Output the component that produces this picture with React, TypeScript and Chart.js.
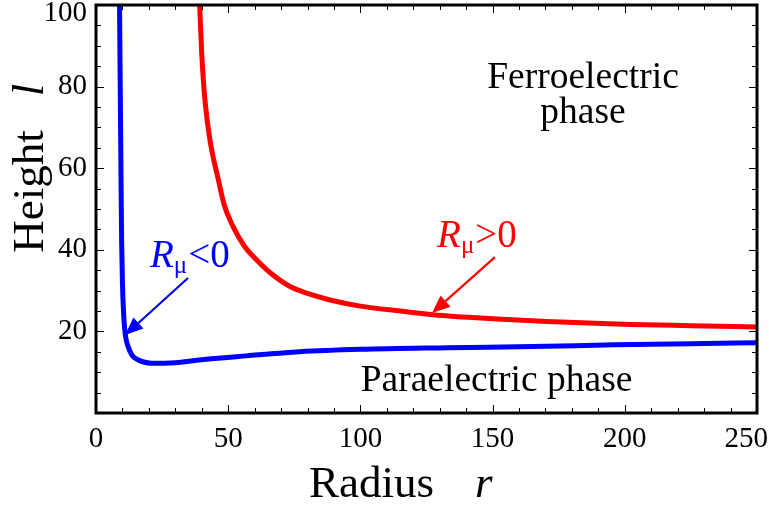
import React, { useEffect, useRef } from 'react';
import { Chart, registerables } from 'chart.js';

Chart.register(...registerables);

// Blue curve (R_mu < 0): radius r, height l
const blueR = [8.9, 9.1, 9.3, 9.5, 9.7, 10.0, 10.4, 11.0, 12.2, 13.6, 15.4, 18.0, 21.0, 26.0, 30.0, 39.0, 57.0, 77.0, 100.0, 133.0, 165.0, 196.0, 225.0, 250.0];
const blueL = [100, 85, 70, 55, 42, 32, 25, 19.6, 16.2, 14.2, 13.2, 12.5, 12.2, 12.2, 12.3, 13.0, 14.0, 15.0, 15.6, 16.0, 16.3, 16.7, 17.0, 17.2];

// Red curve (R_mu > 0)
const redR = [39.2, 40.0, 41.2, 43.1, 46.3, 48.5, 51.9, 56.0, 60.8, 66.0, 73.4, 80.0, 88.5, 100.0, 115.0, 127.5, 150.0, 170.6, 202.0, 225.0, 250.0];
const redL = [100, 88, 76.7, 66.9, 57.1, 51.0, 45.6, 41.0, 37.5, 34.3, 31.0, 29.3, 27.7, 26.2, 25.0, 24.1, 23.1, 22.4, 21.7, 21.4, 21.1];

// Axis ticks
const xTickValues = [0, 50, 100, 150, 200, 250];
const xTickLabels = ['0', '50', '100', '150', '200', '250'];
const yTickValues = [20, 40, 60, 80, 100];
const yTickLabels = ['20', '40', '60', '80', '100'];

const SERIF = '"Liberation Serif", "Times New Roman", Times, serif';

export default function App() {
  const ref = useRef<HTMLCanvasElement | null>(null);

  useEffect(() => {
    const canvas = ref.current;
    if (!canvas) return;

    const decor = {
      id: 'decor',
      afterDraw(chart: any) {
        const ctx = chart.ctx as CanvasRenderingContext2D;
        const { left, right, top, bottom } = chart.chartArea;
        const xs = chart.scales.x;
        const ys = chart.scales.y;
        const X = (v: number) => xs.getPixelForValue(v);
        const Y = (v: number) => ys.getPixelForValue(v);
        ctx.save();

        // tick marks (inside, on all four sides)
        ctx.strokeStyle = '#000';
        ctx.lineWidth = 1;
        ctx.beginPath();
        for (let v = 0; v <= 250; v += 10) {
          const px = Math.round(X(v)) + 0.5;
          const len = v % 50 === 0 ? 8 : 5;
          ctx.moveTo(px, bottom);
          ctx.lineTo(px, bottom - len);
          ctx.moveTo(px, top);
          ctx.lineTo(px, top + len);
        }
        for (let v = 0; v <= 100; v += 5) {
          const py = Math.round(Y(v)) + 0.5;
          const len = v % 20 === 0 ? 8 : 5;
          ctx.moveTo(left, py);
          ctx.lineTo(left + len, py);
          ctx.moveTo(right, py);
          ctx.lineTo(right - len, py);
        }
        ctx.stroke();

        // frame
        ctx.lineWidth = 3;
        ctx.strokeRect(left, top, right - left, bottom - top);

        const text = (s: string, x: number, y: number, font: string, color: string, align: CanvasTextAlign = 'left') => {
          ctx.font = font;
          ctx.fillStyle = color;
          ctx.textAlign = align;
          ctx.textBaseline = 'alphabetic';
          ctx.fillText(s, x, y);
          return ctx.measureText(s).width;
        };

        // phase labels
        text('Ferroelectric', X(184.2), Y(79.6), `37.5px ${SERIF}`, '#000', 'center');
        text('phase', X(184.2), Y(71.0), `37.5px ${SERIF}`, '#000', 'center');
        text('Paraelectric phase', X(151.5), Y(5.4), `37.5px ${SERIF}`, '#000', 'center');

        // R_mu labels
        const rmu = (x: number, y: number, op: string, color: string) => {
          let cx = x;
          cx += text('R', cx, y, `italic 39px ${SERIF}`, color);
          cx += text('\u03bc', cx, y + 6, `25px ${SERIF}`, color);
          text(op + '0', cx + 1, y, `39px ${SERIF}`, color);
        };
        rmu(X(129.0), Y(40.7), '>', '#ff0000');
        rmu(X(20.4), Y(35.9), '<', '#0000ff');

        // arrows
        const arrow = (x1: number, y1: number, x2: number, y2: number, color: string) => {
          const ang = Math.atan2(y2 - y1, x2 - x1);
          const hl = 18, hw = 7.5;
          const bx = x2 - hl * Math.cos(ang);
          const by = y2 - hl * Math.sin(ang);
          ctx.strokeStyle = color;
          ctx.fillStyle = color;
          ctx.lineWidth = 2.2;
          ctx.beginPath();
          ctx.moveTo(x1, y1);
          ctx.lineTo(bx, by);
          ctx.stroke();
          ctx.beginPath();
          ctx.moveTo(x2, y2);
          ctx.lineTo(bx + hw * Math.sin(ang), by - hw * Math.cos(ang));
          ctx.lineTo(bx - hw * Math.sin(ang), by + hw * Math.cos(ang));
          ctx.closePath();
          ctx.fill();
        };
        arrow(X(150.9), Y(38.2), X(127.1), Y(24.5), '#ff0000');
        arrow(X(34.8), Y(33.1), X(11.0), Y(19.1), '#0000ff');

        // axis titles
        text('Radius', 309, 497, `45px ${SERIF}`, '#000');
        text('r', 475, 497, `italic 45px ${SERIF}`, '#000');
        ctx.save();
        ctx.translate(43, 191.5);
        ctx.rotate(-Math.PI / 2);
        text('Height', 0, 0, `45px ${SERIF}`, '#000', 'center');
        ctx.restore();
        ctx.save();
        ctx.translate(43, 90);
        ctx.rotate(-Math.PI / 2);
        text('l', 0, 0, `italic 45px ${SERIF}`, '#000', 'center');
        ctx.restore();

        ctx.restore();
      },
    };

    const chart = new Chart(canvas, {
      type: 'scatter',
      data: {
        datasets: [
          {
            label: 'R<0',
            data: blueR.map((r, i) => ({ x: r, y: blueL[i] })),
            showLine: true,
            borderColor: '#0000ff',
            backgroundColor: '#0000ff',
            borderWidth: 5,
            pointRadius: 0,
            cubicInterpolationMode: 'monotone',
            borderJoinStyle: 'round',
          },
          {
            label: 'R>0',
            data: redR.map((r, i) => ({ x: r, y: redL[i] })),
            showLine: true,
            borderColor: '#ff0000',
            backgroundColor: '#ff0000',
            borderWidth: 5,
            pointRadius: 0,
            cubicInterpolationMode: 'monotone',
            borderJoinStyle: 'round',
          },
        ],
      },
      options: {
        responsive: false,
        animation: false,
        layout: { padding: { left: 0, right: 12, top: 5, bottom: 0 } },
        plugins: { legend: { display: false }, tooltip: { enabled: false } },
        scales: {
          x: {
            type: 'linear',
            min: 0,
            max: 250,
            grid: { display: false, drawTicks: false },
            border: { display: false },
            afterBuildTicks: (s: any) => {
              s.ticks = xTickValues.map((v) => ({ value: v }));
            },
            ticks: {
              autoSkip: false,
              maxRotation: 0,
              padding: 9,
              color: '#000',
              font: { family: SERIF, size: 29 },
              callback: (v: any) => {
                const i = xTickValues.indexOf(Number(v));
                if (i < 0) return '';
                return i === xTickValues.length - 1 ? xTickLabels[i] + '   ' : xTickLabels[i];
              },
            },
            afterFit: (s: any) => {
              s.height = 93;
              s.paddingLeft = 0;
              s.paddingRight = 0;
            },
          },
          y: {
            type: 'linear',
            min: 0,
            max: 100,
            grid: { display: false, drawTicks: false },
            border: { display: false },
            afterBuildTicks: (s: any) => {
              s.ticks = yTickValues.map((v) => ({ value: v }));
            },
            ticks: {
              autoSkip: false,
              padding: 9,
              color: '#000',
              font: { family: SERIF, size: 29, lineHeight: 0.6 },
              callback: (v: any) => {
                const i = yTickValues.indexOf(Number(v));
                if (i < 0) return '';
                return i === yTickValues.length - 1 ? ['', yTickLabels[i]] : yTickLabels[i];
              },
            },
            afterFit: (s: any) => {
              s.width = 96;
              s.paddingTop = 0;
              s.paddingBottom = 0;
            },
          },
        },
      },
      plugins: [decor],
    } as any);

    return () => chart.destroy();
  }, []);

  return (
    <div style={{ position: 'fixed', left: 0, top: 0, width: 769, height: 506, background: '#fff' }}>
      <canvas ref={ref} width={769} height={506} style={{ display: 'block' }} />
    </div>
  );
}
